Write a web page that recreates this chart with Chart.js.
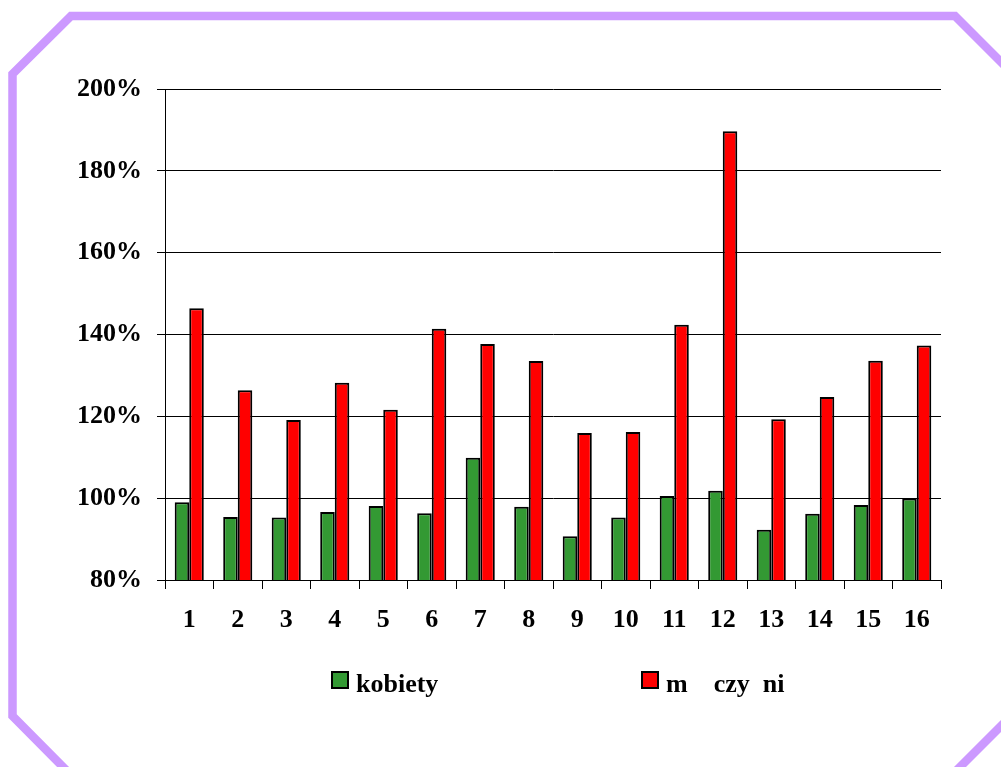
<!DOCTYPE html>
<html>
<head>
<meta charset="utf-8">
<title>kobiety / mężczyźni</title>
<script src="https://cdn.jsdelivr.net/npm/chart.js@4/dist/chart.umd.min.js"></script>
<style>
  html, body { margin: 0; padding: 0; background: #ffffff; }
  #wrap { width: 1001px; height: 767px; position: relative; }
  canvas { display: block; }
</style>
</head>
<body>
<div id="wrap"><canvas id="chart" width="1001" height="767"></canvas></div>
<script>
// Categories and series values (percent)
const categories = ['1', '2', '3', '4', '5', '6', '7', '8', '9', '10', '11', '12', '13', '14', '15', '16'];
const kobiety = [99.0, 95.4, 95.3, 96.6, 98.1, 96.3, 109.9, 97.9, 90.7, 95.3, 100.5, 101.8, 92.3, 96.2, 98.3, 99.9];
const mezczyzni = [146.4, 126.4, 119.1, 128.2, 121.6, 141.4, 137.7, 133.5, 115.9, 116.2, 142.4, 189.7, 119.3, 124.7, 133.6, 137.3];
const seriesNames = ['kobiety', 'm    czy  ni'];
const yTicks = [80, 100, 120, 140, 160, 180, 200];

const FONT = '"Liberation Serif", "Times New Roman", serif';

// Lavender octagonal frame behind the chart
const framePlugin = {
  id: 'frame',
  beforeDraw(chart) {
    const ctx = chart.ctx;
    ctx.save();
    ctx.fillStyle = '#ffffff';
    ctx.fillRect(0, 0, chart.width, chart.height);
    ctx.strokeStyle = '#cc99ff';
    ctx.lineWidth = 8.5;
    ctx.lineJoin = 'miter';
    ctx.beginPath();
    ctx.moveTo(12.5, 74);
    ctx.lineTo(71, 16);
    ctx.lineTo(955, 16);
    ctx.lineTo(1016, 77);
    ctx.lineTo(1016, 711);
    ctx.lineTo(953, 774);
    ctx.lineTo(70, 774);
    ctx.lineTo(12.5, 716);
    ctx.closePath();
    ctx.stroke();
    ctx.restore();
  }
};

// Legend row under the axis: square swatch + bold label per series
const legendPlugin = {
  id: 'customLegend',
  afterDraw(chart) {
    const ctx = chart.ctx;
    const slots = [332, 642];
    ctx.save();
    chart.data.datasets.forEach((ds, i) => {
      const x = slots[i];
      ctx.fillStyle = ds.backgroundColor;
      ctx.fillRect(x, 672, 16, 16);
      ctx.strokeStyle = '#000000';
      ctx.lineWidth = 2;
      ctx.strokeRect(x, 672, 16, 16);
      ctx.fillStyle = '#000000';
      ctx.font = 'bold 26px ' + FONT;
      ctx.textBaseline = 'alphabetic';
      ctx.textAlign = 'left';
      ctx.fillText(ds.label, x + 24, 692);
    });
    ctx.restore();
  }
};

new Chart(document.getElementById('chart'), {
  type: 'bar',
  data: {
    labels: categories,
    datasets: [
      {
        label: seriesNames[0],
        data: kobiety,
        backgroundColor: '#339933',
        borderColor: '#000000',
        borderWidth: 2,
        borderSkipped: false
      },
      {
        label: seriesNames[1],
        data: mezczyzni,
        backgroundColor: '#ff0000',
        borderColor: '#000000',
        borderWidth: 2,
        borderSkipped: false
      }
    ]
  },
  options: {
    responsive: false,
    devicePixelRatio: 1,
    animation: false,
    events: [],
    layout: { padding: { left: 0, right: 60, top: 89, bottom: 0 } },
    datasets: {
      bar: { categoryPercentage: 0.6, barPercentage: 1.0 }
    },
    plugins: {
      legend: { display: false },
      tooltip: { enabled: false },
      title: { display: false }
    },
    scales: {
      x: {
        grid: {
          display: true,
          offset: true,
          drawOnChartArea: false,
          drawTicks: true,
          tickLength: 9,
          color: '#000000',
          lineWidth: 1
        },
        border: { display: true, color: '#000000', width: 1 },
        ticks: {
          color: '#000000',
          padding: 16,
          maxRotation: 0,
          font: { family: FONT, size: 26, weight: 'bold' }
        },
        afterFit(scale) { scale.height = 187; }
      },
      y: {
        min: yTicks[0],
        max: yTicks[yTicks.length - 1],
        afterBuildTicks(scale) {
          scale.ticks = yTicks.map(v => ({ value: v }));
        },
        grid: {
          display: true,
          drawOnChartArea: true,
          drawTicks: true,
          tickLength: 8,
          color: '#000000',
          lineWidth: 1
        },
        border: { display: true, color: '#000000', width: 1 },
        ticks: {
          color: '#000000',
          padding: 15,
          callback: v => v + '%',
          font: { family: FONT, size: 26, weight: 'bold' }
        },
        afterFit(scale) { scale.width = 165; }
      }
    }
  },
  plugins: [framePlugin, legendPlugin]
});
</script>
</body>
</html>
